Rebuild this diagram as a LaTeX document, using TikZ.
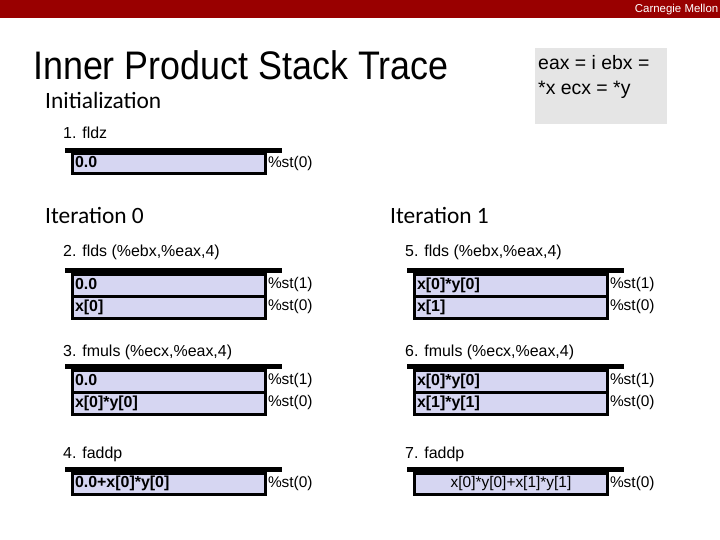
\documentclass[tikz,border=0pt]{standalone}
\usepackage{fontspec}
\setmainfont{Liberation Sans}
\newfontfamily\calfont{Carlito}
\newfontfamily\titlefont{Liberation Sans}[FakeStretch=0.9]
\usetikzlibrary{positioning}

\definecolor{cmured}{RGB}{153,0,0}
\definecolor{boxgray}{RGB}{229,229,229}
\definecolor{stackfill}{RGB}{214,214,242}

\tikzset{
cell/.style={draw,line width=3bp,fill=stackfill,outer sep=0pt,
anchor=north west,minimum height=22bp,text width=188bp,
inner xsep=2.5bp,inner ysep=0pt,align=left,
text height=11.5bp,text depth=3.5bp,
font=\fontsize{16}{18}\selectfont\bfseries},
topbar/.style={line width=5bp},
reg/.style={inner sep=0pt,outer sep=0pt,font=\fontsize{15.5}{18}\selectfont},
instr/.style={anchor=base west,inner sep=0pt,font=\fontsize{16}{19}\selectfont},
phase/.style={anchor=base west,inner sep=0pt,font=\calfont\fontsize{23.5}{28}\selectfont}
}

\begin{document}
\begin{tikzpicture}[x=1bp,y=-1bp]
\useasboundingbox (0,0) rectangle (720,540);

% header
\fill[cmured] (0,0) rectangle (720,18);
\node[anchor=base east,inner sep=0pt,text=white,
font=\fontsize{11.5}{13}\selectfont] (cmu) at (718.5,13){Carnegie Mellon};

\node[anchor=base west,inner sep=0pt,
font=\titlefont\fontsize{40}{44}\selectfont] (title) at (33,80){Inner Product Stack Trace};

\fill[boxgray] (535,48) rectangle (667,124);
\node[anchor=north west,inner sep=0pt,align=left,
font=\fontsize{19.5}{25}\selectfont] (regs) at (538,55){eax = i ebx =\\*x ecx = *y};

% initialization
\node[phase] (init) at (45,109){Initialization};
\node[instr] (s1) at (63,138.5){1. fldz};
\node[cell,minimum height=20bp] (i1) at (72.5,154){0.0};
\draw[topbar] ([xshift=-7.5bp,yshift=3.5bp]i1.north west) -- ([xshift=16.5bp,yshift=3.5bp]i1.north east);
\node[reg,right=2.5bp of i1] (i1r){\%st(0)};

% iteration 0
\node[phase] (it0) at (45,224){Iteration 0};

\node[instr] (s2) at (63,257){2. flds (\%ebx,\%eax,4)};
\node[cell] (a1) at (72.5,274){0.0};
\node[cell,below=0pt of a1] (a2){x[0]};
\draw[topbar] ([xshift=-7.5bp,yshift=3.5bp]a1.north west) -- ([xshift=16.5bp,yshift=3.5bp]a1.north east);
\node[reg,right=2.5bp of a1] (a1r){\%st(1)};
\node[reg,right=2.5bp of a2] (a2r){\%st(0)};

\node[instr] (s3) at (63,356){3. fmuls (\%ecx,\%eax,4)};
\node[cell] (b1) at (72.5,370){0.0};
\node[cell,below=0pt of b1] (b2){x[0]*y[0]};
\draw[topbar] ([xshift=-7.5bp,yshift=3.5bp]b1.north west) -- ([xshift=16.5bp,yshift=3.5bp]b1.north east);
\node[reg,right=2.5bp of b1] (b1r){\%st(1)};
\node[reg,right=2.5bp of b2] (b2r){\%st(0)};

\node[instr] (s4) at (63,458){4. faddp};
\node[cell,minimum height=21bp] (c1) at (72.5,473){0.0+x[0]*y[0]};
\draw[topbar] ([xshift=-7.5bp,yshift=3.5bp]c1.north west) -- ([xshift=16.5bp,yshift=3.5bp]c1.north east);
\node[reg,right=2.5bp of c1] (c1r){\%st(0)};

% iteration 1
\node[phase] (it1) at (390,224){Iteration 1};

\node[instr] (s5) at (405,257){5. flds (\%ebx,\%eax,4)};
\node[cell] (d1) at (414.5,274){x[0]*y[0]};
\node[cell,below=0pt of d1] (d2){x[1]};
\draw[topbar] ([xshift=-7.5bp,yshift=3.5bp]d1.north west) -- ([xshift=16.5bp,yshift=3.5bp]d1.north east);
\node[reg,right=2.5bp of d1] (d1r){\%st(1)};
\node[reg,right=2.5bp of d2] (d2r){\%st(0)};

\node[instr] (s6) at (405,356){6. fmuls (\%ecx,\%eax,4)};
\node[cell] (e1) at (414.5,370){x[0]*y[0]};
\node[cell,below=0pt of e1] (e2){x[1]*y[1]};
\draw[topbar] ([xshift=-7.5bp,yshift=3.5bp]e1.north west) -- ([xshift=16.5bp,yshift=3.5bp]e1.north east);
\node[reg,right=2.5bp of e1] (e1r){\%st(1)};
\node[reg,right=2.5bp of e2] (e2r){\%st(0)};

\node[instr] (s7) at (405,458){7. faddp};
\node[cell,minimum height=21bp,align=center,
font=\fontsize{15.5}{18}\selectfont] (f1) at (414.5,473){x[0]*y[0]+x[1]*y[1]};
\draw[topbar] ([xshift=-7.5bp,yshift=3.5bp]f1.north west) -- ([xshift=16.5bp,yshift=3.5bp]f1.north east);
\node[reg,right=2.5bp of f1] (f1r){\%st(0)};
\end{tikzpicture}
\end{document}
